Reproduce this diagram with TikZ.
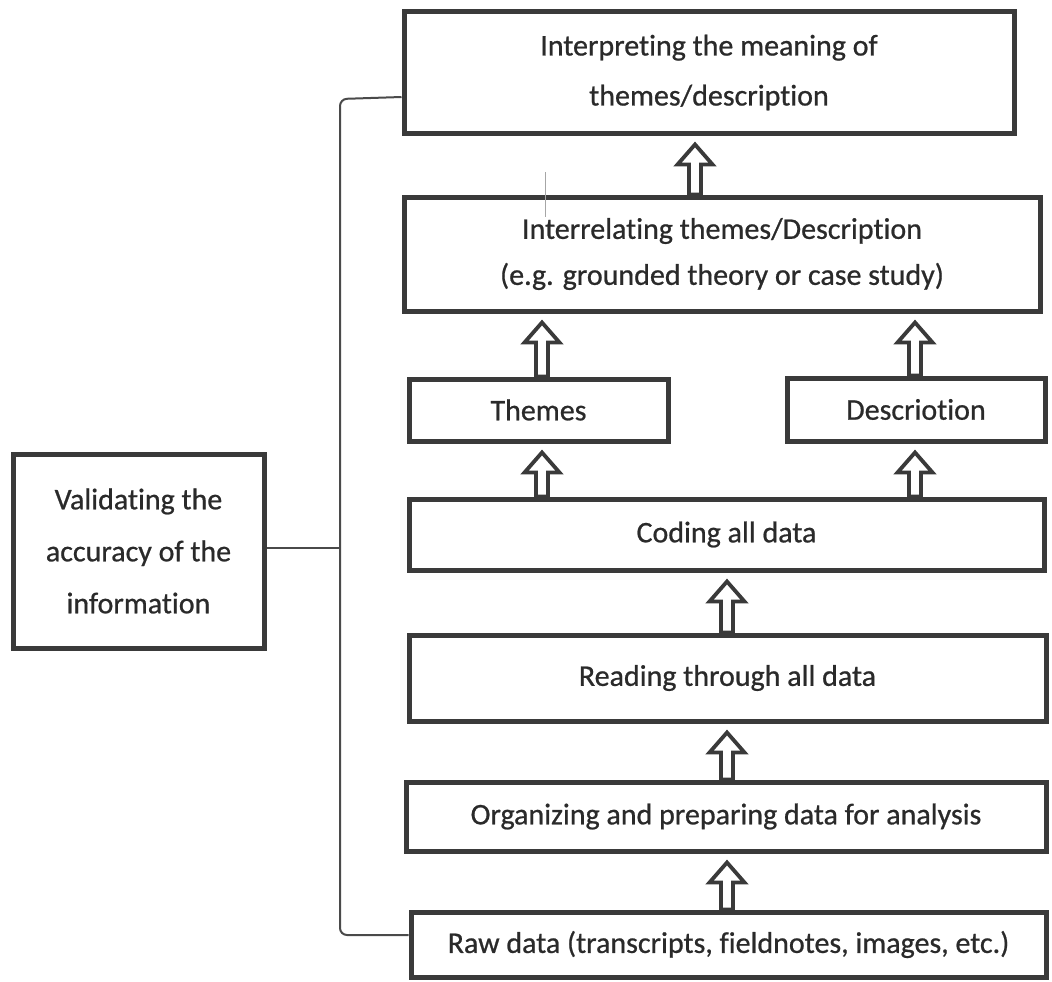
\documentclass[tikz,border=0pt]{standalone}
\usepackage{fontspec}
\setmainfont{Carlito}[Ligatures=NoCommon, FakeBold=0.7]
\usetikzlibrary{calc}
\definecolor{boxc}{HTML}{3A3A3A}
\definecolor{txtc}{HTML}{2A2A2A}
\definecolor{brkc}{HTML}{4A4A4A}
\tikzset{
  stepbox/.style={draw=boxc, line width=5pt, rectangle, inner sep=0pt, text=txtc, align=center,
     font=\fontsize{30}{50}\selectfont},
  blockarr/.style={draw=boxc, line width=3.8pt, fill=white, line join=miter},
  brk/.style={draw=brkc, line width=2pt},
}
\newcommand\uparr[3]{% lower, upper, x
  \draw[blockarr] let \p1=(#1.north), \p2=(#2.south) in
    (#3pt-6pt,\y1) -- (#3pt-6pt,\y2-29pt) -- (#3pt-17.5pt,\y2-29pt) -- (#3pt,\y2-9pt)
    -- (#3pt+17.5pt,\y2-29pt) -- (#3pt+6pt,\y2-29pt) -- (#3pt+6pt,\y1) -- cycle;}
\begin{document}
\begin{tikzpicture}[x=1pt,y=-1pt]
\useasboundingbox[fill=white] (0,0) rectangle (1052,982);
\node[stepbox, minimum width=610pt, minimum height=121pt] (interp) at (709,72.5)
  {Interpreting the meaning of\\themes/description};
\node[stepbox, minimum width=636pt, minimum height=114pt, font=\fontsize{30}{46}\selectfont] (interrel) at (722,254)
  {Interrelating themes/Description\\(e.g. grounded theory or case study)};
\node[stepbox, minimum width=259pt, minimum height=62pt] (themes) at (538.5,410) {Themes};
\node[stepbox, minimum width=258pt, minimum height=63pt] (desc) at (916,409.5) {Descriotion};
\node[stepbox, minimum width=635pt, minimum height=71pt] (coding) at (726.5,534.5) {Coding all data};
\node[stepbox, minimum width=637pt, minimum height=86pt] (reading) at (727.5,678) {Reading through all data};
\node[stepbox, minimum width=640pt, minimum height=69pt] (org) at (726,816.5) {Organizing and preparing data for analysis};
\node[stepbox, minimum width=635pt, minimum height=65pt] (raw) at (728.5,944.5) {Raw data (transcripts, fieldnotes, images, etc.)};
\node[stepbox, minimum width=251pt, minimum height=194pt, font=\fontsize{30}{52}\selectfont] (valid) at (138.5,551)
  {Validating the\\accuracy of the\\information};
% arrows
\uparr{interrel}{interp}{695}
\uparr{themes}{interrel}{542}
\uparr{desc}{interrel}{915}
\uparr{coding}{themes}{542}
\uparr{coding}{desc}{915}
\uparr{reading}{coding}{727}
\uparr{org}{reading}{727}
\uparr{raw}{org}{727}
% bracket
\coordinate (bx) at (340,548);
\draw[brk, rounded corners=7pt] (interp.west |- 0,97) -- (340,99) -- (340,935) -- (raw.west |- 0,935);
\draw[brk] (valid.east |- bx) -- (bx);
% stray tick
\draw[draw=gray!70, line width=0.8pt] (545,172) -- (545,217);
\end{tikzpicture}
\end{document}
